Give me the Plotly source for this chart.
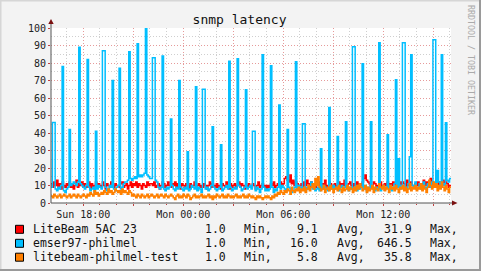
import pandas as pd
import plotly.graph_objects as go

# ---------------- data (5-minute samples, Sun 16:04 -> Mon 16:04) ----------------
start_time = "2024-01-07 16:04"
step = "5min"

litebeam_5ac_23 = [
    11, 9, 12, 10, 13, 9, 11, 8, 12, 10, 9, 11,
    10, 12, 9, 11, 8, 10, 13, 9, 11, 10, 12, 9,
    11, 9, 10, 12, 8, 11, 9, 10, 12, 9, 11, 10,
    9, 12, 10, 8, 11, 10, 9, 12, 10, 9, 11, 10,
    10, 9, 11, 12, 9, 10, 11, 8, 10, 12, 9, 11,
    10, 12, 9, 11, 10, 8, 11, 10, 9, 12, 10, 11,
    11, 10, 12, 9, 10, 11, 8, 10, 12, 11, 9, 10,
    12, 10, 9, 11, 10, 12, 9, 11, 10, 8, 11, 10,
    9, 11, 10, 8, 11, 9, 10, 12, 9, 10, 11, 9,
    10, 9, 11, 10, 8, 10, 12, 9, 11, 10, 9, 11,
    9, 10, 8, 11, 10, 9, 12, 10, 8, 11, 9, 10,
    11, 9, 10, 12, 9, 11, 10, 8, 10, 9, 11, 10,
    9, 11, 10, 8, 10, 12, 9, 10, 11, 9, 10, 8,
    10, 9, 11, 10, 12, 9, 10, 11, 9, 12, 10, 11,
    14, 15, 13, 12, 16, 11, 13, 10, 12, 11, 9, 10,
    11, 9, 12, 10, 13, 11, 9, 12, 10, 11, 9, 10,
    10, 12, 9, 11, 10, 13, 9, 10, 12, 11, 9, 10,
    11, 9, 10, 12, 9, 11, 10, 13, 9, 10, 11, 12,
    10, 9, 11, 10, 12, 9, 11, 10, 12, 14, 16, 13,
    12, 11, 9, 10, 12, 11, 9, 10, 11, 12, 9, 10,
    11, 10, 12, 9, 11, 10, 12, 11, 9, 10, 11, 12,
    10, 12, 11, 9, 13, 10, 11, 12, 10, 9, 11, 10,
    12, 10, 9, 11, 13, 10, 12, 11, 9, 14, 12, 10,
    11, 13, 10, 12, 9, 11, 13, 10, 12, 11, 9, 10,
]

emser97_philmel = [
    9, 46, 46, 8, 7, 9, 8, 10, 78, 7, 6, 8,
    9, 42, 10, 11, 12, 11, 10, 12, 89, 11, 10, 9,
    8, 10, 82, 9, 7, 8, 9, 6, 41, 8, 10, 9,
    8, 87, 87, 9, 7, 8, 10, 9, 70, 8, 7, 9,
    10, 77, 8, 9, 11, 12, 12, 13, 86.5, 14, 13, 14,
    15, 14, 91, 15, 16, 15, 16, 17, 99.6, 16, 15, 14,
    14, 83, 83, 13, 12, 9, 8, 9, 84, 8, 7, 9,
    8, 9, 48, 10, 8, 7, 9, 8, 70, 9, 8, 7,
    9, 8, 29.3, 7, 8, 10, 9, 8, 66.5, 7, 9, 8,
    6, 65, 65, 8, 9, 7, 8, 10, 43.6, 9, 8, 7,
    8, 9, 33.3, 7, 8, 9, 10, 8, 81, 9, 7, 8,
    9, 8, 82.5, 10, 9, 7, 8, 9, 64.7, 8, 9, 10,
    8, 41, 41, 7, 9, 8, 6, 8, 84.7, 9, 7, 8,
    7, 8, 78.5, 9, 6, 8, 7, 9, 56, 8, 10, 9,
    8, 7, 42, 9, 8, 6, 7, 9, 80.7, 8, 10, 9,
    8, 45.3, 45.3, 7, 9, 8, 10, 12, 8, 9, 7, 8,
    9, 7, 31, 8, 10, 9, 8, 7, 54.6, 9, 8, 10,
    8, 9, 38, 7, 9, 10, 8, 9, 46.5, 8, 7, 9,
    8, 89.3, 89.3, 9, 7, 10, 8, 9, 79.6, 8, 10, 7,
    9, 8, 46.5, 10, 8, 7, 9, 8, 91.6, 7, 9, 10,
    8, 9, 39, 8, 10, 7, 9, 11, 70.5, 9, 25.3, 8,
    10, 91.6, 91.6, 9, 8, 11, 26.5, 84.7, 10, 9, 12, 8,
    9, 11, 8, 10, 12, 9, 8, 11, 10, 9, 12, 93.3,
    93.3, 10, 18.6, 12, 9, 84.7, 11, 10, 45.8, 13, 12, 14,
]

litebeam_philmel_test = [
    4, 3, 5, 4, 3, 4, 5, 3, 4, 5, 4, 3,
    4, 5, 3, 4, 5, 4, 3, 5, 4, 3, 4, 5,
    4, 3, 5, 4, 6, 5, 4, 7, 5, 6, 4, 5,
    6, 5, 7, 6, 5, 8, 6, 7, 5, 6, 8, 7,
    6, 7, 5, 8, 6, 7, 6, 5, 7, 6, 4, 5,
    4, 3, 5, 4, 3, 5, 4, 3, 4, 5, 3, 4,
    5, 4, 3, 4, 5, 3, 4, 5, 4, 3, 5, 4,
    3, 4, 5, 4, 3, 2, 4, 5, 3, 4, 3, 5,
    4, 3, 5, 4, 2, 3, 4, 5, 3, 4, 3, 4,
    5, 3, 4, 3, 4, 5, 3, 4, 2, 4, 3, 5,
    4, 3, 4, 5, 3, 4, 3, 5, 4, 3, 4, 3,
    4, 5, 3, 4, 3, 4, 5, 3, 4, 3, 5, 4,
    3, 4, 3, 2, 4, 3, 4, 3, 2, 3, 4, 3,
    4, 3, 2, 4, 3, 5, 4, 6, 5, 7, 6, 5,
    7, 6, 8, 7, 5, 9, 7, 6, 8, 7, 9, 6,
    8, 7, 9, 6, 8, 10, 7, 9, 11, 8, 14, 10,
    15, 9, 7, 8, 10, 6, 8, 9, 7, 10, 8, 6,
    8, 9, 7, 10, 8, 6, 9, 7, 8, 10, 7, 9,
    8, 6, 9, 7, 10, 8, 11, 9, 7, 8, 10, 6,
    9, 7, 8, 10, 6, 9, 8, 7, 11, 9, 8, 10,
    7, 9, 8, 6, 10, 8, 9, 7, 10, 8, 6, 9,
    8, 10, 7, 9, 6, 8, 11, 7, 9, 8, 10, 7,
    9, 8, 11, 7, 10, 8, 6, 9, 13, 10, 8, 12,
    9, 11, 7, 10, 8, 12, 9, 7, 10, 8, 6, 9,
]

series_names = ["LiteBeam 5AC 23", "emser97-philmel", "litebeam-philmel-test"]
series_values = [litebeam_5ac_23, emser97_philmel, litebeam_philmel_test]
series_colors = ["#ff0000", "#00bfff", "#ff8000"]
stat_min = ["1.0", "1.0", "1.0"]
stat_avg = ["9.1", "16.0", "5.8"]
stat_max = ["31.9", "646.5", "35.8"]

x_tick_vals = ["2024-01-07 18:00", "2024-01-07 21:00", "2024-01-08 00:00", "2024-01-08 03:00",
               "2024-01-08 06:00", "2024-01-08 09:00", "2024-01-08 12:00", "2024-01-08 15:00"]
x_tick_text = ["Sun 18:00", "", "Mon 00:00", "", "Mon 06:00", "", "Mon 12:00", ""]
y_tick_vals = list(range(0, 101, 10))

# ---------------- figure ----------------
W, H = 481, 271
L, R, T, B = 51, 30, 28, 68
PW, PH = W - L - R, H - T - B


def px(xp):
    return (xp - L) / PW


def py(yp):
    return (H - B - yp) / PH


n = len(emser97_philmel)
times = pd.date_range(start_time, periods=n + 1, freq=step)

fig = go.Figure()
for name, vals, col in zip(series_names, series_values, series_colors):
    fig.add_trace(go.Scatter(
        x=times, y=list(vals) + [vals[-1]], mode="lines", name=name,
        line=dict(color=col, width=1.5, shape="hv"), hoverinfo="skip",
    ))

mono = "DejaVu Sans Mono"
major_grid = "#e69a9a"
minor_grid = "#cfcfcf"

fig.update_layout(
    width=W, height=H, margin=dict(l=L, r=R, t=T, b=B),
    paper_bgcolor="#f3f3f3", plot_bgcolor="#ffffff",
    showlegend=False,
    font=dict(family=mono, size=10, color="#222222"),
    title=dict(text="snmp latency", x=0.498, xref="container", xanchor="center",
               y=1 - 19 / H, yref="container", yanchor="middle",
               font=dict(family=mono, size=13, color="#111111")),
)

fig.update_xaxes(
    type="date", range=[times[0], times[-1]],
    tickmode="array", tickvals=x_tick_vals, ticktext=x_tick_text,
    showgrid=True, gridcolor=major_grid, griddash="1px,2px", gridwidth=1,
    ticks="outside", ticklen=2, tickcolor="#c04040",
    tickfont=dict(family=mono, size=10, color="#222222"),
    showline=False, zeroline=False,
    minor=dict(tickmode="linear", tick0="2024-01-07 16:00", dtick=3600000,
               showgrid=True, gridcolor=minor_grid, griddash="1px,2px",
               ticks="outside", ticklen=1, tickcolor="#c04040"),
)
fig.update_yaxes(
    range=[0, 100], tickmode="array", tickvals=y_tick_vals,
    showgrid=True, gridcolor=major_grid, griddash="1px,2px", gridwidth=1,
    ticks="outside", ticklen=2, tickcolor="#c04040",
    tickfont=dict(family=mono, size=10, color="#222222"),
    showline=False, zeroline=False,
    minor=dict(tickmode="linear", tick0=0, dtick=5, showgrid=True,
               gridcolor=minor_grid, griddash="1px,2px"),
)

shapes = []
axis_col = "#555555"
arrow_col = "#7a1010"
# extended axes with arrows
shapes.append(dict(type="line", xref="paper", yref="paper", x0=px(51), x1=px(453),
                   y0=0, y1=0, line=dict(color=axis_col, width=1)))
shapes.append(dict(type="line", xref="paper", yref="paper", x0=0, x1=0,
                   y0=0, y1=py(23), line=dict(color=axis_col, width=1)))
shapes.append(dict(type="path", xref="paper", yref="paper",
                   path=f"M {px(452)} {py(200.5)} L {px(457.5)} {py(203)} L {px(452)} {py(205.5)} Z",
                   fillcolor=arrow_col, line=dict(color=arrow_col, width=0)))
shapes.append(dict(type="path", xref="paper", yref="paper",
                   path=f"M {px(48.3)} {py(24)} L {px(51)} {py(19)} L {px(53.7)} {py(24)} Z",
                   fillcolor=arrow_col, line=dict(color=arrow_col, width=0)))
# frame
shapes.append(dict(type="rect", xref="paper", yref="paper", x0=px(0), x1=px(1.5), y0=py(H), y1=py(0),
                   fillcolor="#d6d6d6", line=dict(width=0), layer="below"))
shapes.append(dict(type="rect", xref="paper", yref="paper", x0=px(0), x1=px(W), y0=py(1.5), y1=py(0),
                   fillcolor="#d6d6d6", line=dict(width=0), layer="below"))
shapes.append(dict(type="rect", xref="paper", yref="paper", x0=px(W - 2), x1=px(W), y0=py(H), y1=py(0),
                   fillcolor="#9a9a9a", line=dict(width=0), layer="below"))
shapes.append(dict(type="rect", xref="paper", yref="paper", x0=px(0), x1=px(W), y0=py(H), y1=py(H - 2),
                   fillcolor="#9a9a9a", line=dict(width=0), layer="below"))

annotations = []
row_y = [229.3, 243.3, 257.2]
for i in range(3):
    yc = row_y[i]
    shapes.append(dict(type="rect", xref="paper", yref="paper",
                       x0=px(15.5), x1=px(23.5), y0=py(yc + 4), y1=py(yc - 4),
                       fillcolor=series_colors[i], line=dict(color="#000000", width=1)))
    cols = [
        (series_names[i], 30.7, "left"),
        (stat_min[i], 227.5, "right"),
        ("Min,", 241.5, "left"),
        (stat_avg[i], 320.3, "right"),
        ("Avg,", 335.0, "left"),
        (stat_max[i], 413.5, "right"),
        ("Max,", 428.3, "left"),
    ]
    for txt, xp, anc in cols:
        annotations.append(dict(text=txt, xref="paper", yref="paper", x=px(xp), y=py(yc),
                                xanchor=anc, yanchor="middle", showarrow=False,
                                font=dict(family=mono, size=11.5, color="#111111")))

annotations.append(dict(text="RRDTOOL / TOBI OETIKER", xref="paper", yref="paper",
                        x=px(471), y=py(60), textangle=90, showarrow=False,
                        xanchor="center", yanchor="middle",
                        font=dict(family=mono, size=8.3, color="#aaaaaa")))

fig.update_layout(shapes=shapes, annotations=annotations)
fig.write_html("out.html")
